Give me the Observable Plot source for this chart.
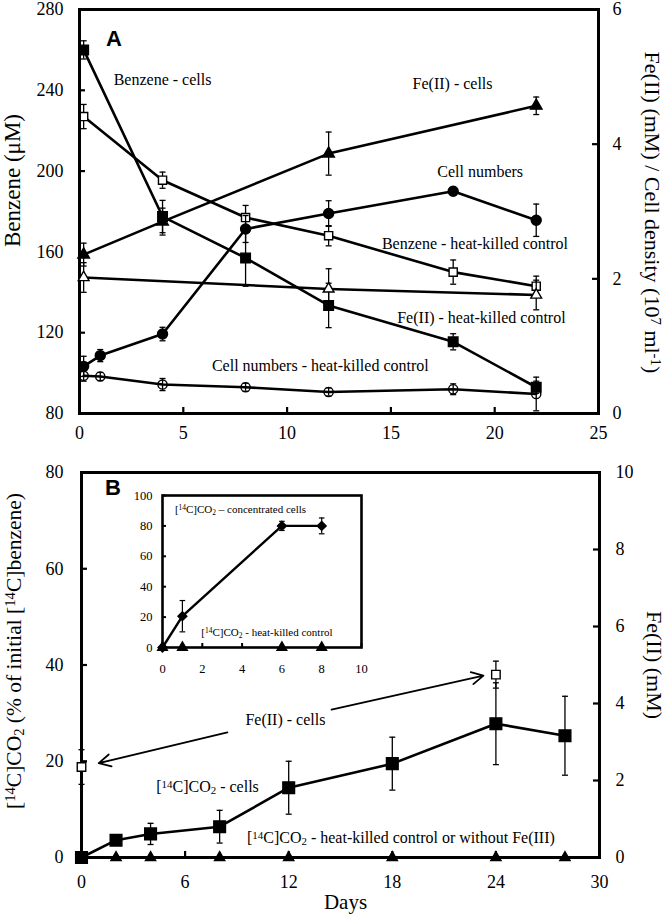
<!DOCTYPE html>
<html><head><meta charset="utf-8">
<script src="https://cdn.jsdelivr.net/npm/d3@7"></script>
<script src="https://cdn.jsdelivr.net/npm/@observablehq/plot@0.6"></script>
<style>
html,body{margin:0;padding:0;background:#fff}
#wrap{position:relative;width:666px;height:916px;overflow:hidden;background:#fff}
#wrap svg{position:absolute;left:0;overflow:visible}
</style></head>
<body><div id="wrap"></div>
<script>
// ---------------- Panel A data ----------------
const daysBenz = [0.2, 4, 8, 12, 18, 22];
const benzeneCells = [260, 177.5, 157, 133.5, 115.5, 93];
const benzeneCellsErr = [4.5, 8, 14, 11, 4, 3];
const benzeneKilled = [227, 195.5, 177, 168, 150, 143];
const benzeneKilledErr = [6, 4, 6, 5, 6, 5];

const daysFe = [0.2, 4, 12, 22];
const feCells = [2.36, 2.85, 3.86, 4.57];
const feCellsErr = [0.17, 0.2, 0.32, 0.13];
const daysFeKilled = [0.2, 12, 22];
const feKilled = [2.02, 1.85, 1.76];
const feKilledErr = [0.22, 0.3, 0.22];

const daysCells = [0.2, 1, 4, 8, 12, 18, 22];
const cellNumbers = [0.70, 0.86, 1.18, 2.74, 2.97, 3.30, 2.87];
const cellNumbersErr = [0.15, 0.09, 0.1, 0.2, 0.19, 0.06, 0.24];
const cellKilled = [0.56, 0.55, 0.43, 0.39, 0.32, 0.36, 0.29];
const cellKilledErr = [0.08, 0.06, 0.09, 0.06, 0.06, 0.08, 0.25];

const xTicksA = [0, 5, 10, 15, 20, 25];
const yTicksA = [80, 120, 160, 200, 240, 280];
const yTicksAR = [0, 2, 4, 6];

// ---------------- Panel B data ----------------
const daysB = [0, 2, 4, 8, 12, 18, 24, 28];
const co2Cells = [0, 3.6, 4.9, 6.4, 14.5, 19.5, 27.8, 25.3];
const co2CellsErr = [0, 1, 2.2, 3.4, 5.5, 5.5, 8.5, 8.2];
const co2Killed = [0, 0, 0, 0, 0, 0, 0, 0];
const daysFeB = [0, 24];
const feB = [2.35, 4.75];
const feBErr = [0.45, 0.35];

const xTicksB = [0, 6, 12, 18, 24, 30];
const yTicksB = [0, 20, 40, 60, 80];
const yTicksBR = [0, 2, 4, 6, 8, 10];

// ---------------- Inset data ----------------
const daysInset = [0, 1, 6, 8];
const co2Conc = [0, 20.6, 80, 80];
const co2ConcErr = [0, 10.3, 3, 5.2];
const co2ConcKilled = [0, 0, 0, 0];
const xTicksIn = [0, 2, 4, 6, 8, 10];
const yTicksIn = [0, 20, 40, 60, 80, 100];

// ---------------- Annotations (data units) ----------------
const notesA = [
  {text: "Benzene - cells", x: 4.0, y: 245},
  {text: "Fe(II) - cells", x: 17.97, y: 243.4},
  {text: "Cell numbers", x: 19.3, y: 199.8},
  {text: "Benzene - heat-killed control", x: 19.05, y: 164.2},
  {text: "Fe(II) - heat-killed control", x: 19.36, y: 127.5},
  {text: "Cell numbers - heat-killed control", x: 11.6, y: 103.8}
];
const notesB = [
  {text: "Fe(II) - cells", x: 11.81, y: 28.5},
  {text: "[^{14}C]CO_{2} - cells", x: 7.3, y: 14.7},
  {text: "[^{14}C]CO_{2} - heat-killed control or without Fe(III)", x: 18.5, y: 4.16}
];
const arrowsB = [
  {x1: 8.45, y1: 26.0, x2: 1.0, y2: 19.6},
  {x1: 14.48, y1: 30.75, x2: 23.28, y2: 37.8}
];
const notesIn = [
  {text: "[^{14}C]CO_{2} – concentrated cells", x: 3.92, y: 90.8},
  {text: "[^{14}C]CO_{2} - heat-killed control", x: 5.25, y: 9.9}
];
const panelLetters = [{text: "A", x: 1.66, y: 265.6}];
const panelLettersB = [{text: "B", x: 1.82, y: 76.7}];

// ---------------- helpers ----------------
const W = 666;
const serif = "'Liberation Serif', 'Times New Roman', serif";
const sans = "'Liberation Sans', Arial, sans-serif";
const capSym = {draw(ctx, size) { const r = Math.sqrt(size / Math.PI); ctx.moveTo(-r, 0); ctx.lineTo(r, 0); }};
const fmt = d => String(d);

function rows(xs, ys, es) { return xs.map((x, i) => ({x, y: ys[i], e: es ? es[i] : 0})); }

function series(data, {symbol, r, fill = "black", line = true, lw = 2.6, capR = 3, ew = 1.3, ds = 1.4}) {
  const withErr = data.filter(d => d.e > 0);
  const m = [];
  if (line) m.push(Plot.line(data, {x: "x", y: "y", stroke: "black", strokeWidth: lw}));
  m.push(Plot.ruleX(withErr, {x: "x", y1: d => d.y - d.e, y2: d => d.y + d.e, stroke: "black", strokeWidth: ew}));
  m.push(Plot.dot(withErr, {x: "x", y: d => d.y - d.e, symbol: capSym, r: capR, fill: "none", stroke: "black", strokeWidth: ew}));
  m.push(Plot.dot(withErr, {x: "x", y: d => d.y + d.e, symbol: capSym, r: capR, fill: "none", stroke: "black", strokeWidth: ew}));
  m.push(Plot.dot(data, {x: "x", y: "y", symbol, r, fill, stroke: "black", strokeWidth: ds}));
  return m;
}
function ticksIn(vals, dim, side, plotSize, len = 6, sw = 2.2) {
  if (dim === "y") {
    const o = {y: d => d, stroke: "black", strokeWidth: sw};
    if (side === "left") o.insetRight = plotSize - len; else o.insetLeft = plotSize - len;
    return Plot.tickY(vals, o);
  }
  return Plot.tickX(vals, {x: d => d, stroke: "black", strokeWidth: sw, insetTop: plotSize - len});
}
function richText(svg) {
  svg.querySelectorAll("text").forEach(t => {
    const s = t.textContent;
    if (!/[\^_]\{/.test(s)) return;
    while (t.firstChild) t.removeChild(t.firstChild);
    const ns = "http://www.w3.org/2000/svg";
    const add = (str, kind) => {
      const sp = document.createElementNS(ns, "tspan");
      sp.textContent = str;
      if (kind) {
        sp.setAttribute("font-size", "68%");
        sp.setAttribute("baseline-shift", kind === "^" ? "38%" : "-22%");
      }
      t.appendChild(sp);
    };
    const re = /([\^_])\{([^}]*)\}/g; let last = 0, mm;
    while ((mm = re.exec(s))) { if (mm.index > last) add(s.slice(last, mm.index)); add(mm[2], mm[1]); last = re.lastIndex; }
    if (last < s.length) add(s.slice(last));
  });
}
const baseStyle = {fontFamily: serif, fontSize: "18px", background: "transparent", overflow: "visible", color: "black"};
const wrap = document.getElementById("wrap");
function place(svg, top) {
  svg.style.position = "absolute"; svg.style.top = top + "px"; svg.style.left = "0px";
  // force serif on axis tick labels
  svg.querySelectorAll('g[aria-label*="tick label"], g[aria-label*="tick label"] text').forEach(el => { el.style.fontFamily = serif; });
  richText(svg); wrap.appendChild(svg);
}
const ax = {tickSize: 0, label: null, fontFamily: serif, tickFormat: fmt};

// ---------------- Panel A ----------------
const A = {h: 450, top: 9, right: 68, bottom: 37, left: 79};
const AW = W - A.left - A.right, AH = A.h - A.top - A.bottom;
const plotAL = Plot.plot({
  width: W, height: A.h, marginTop: A.top, marginRight: A.right, marginBottom: A.bottom, marginLeft: A.left,
  x: {domain: [0, 25]}, y: {domain: [80, 280]}, style: baseStyle,
  marks: [
    Plot.axisX({...ax, ticks: xTicksA, tickPadding: 13, fontSize: 18}),
    Plot.axisY({...ax, ticks: yTicksA, tickPadding: 16, fontSize: 18}),
    ticksIn(yTicksA, "y", "left", AW),
    ticksIn(xTicksA, "x", null, AH),
    ...series(rows(daysBenz, benzeneCells, benzeneCellsErr), {symbol: "square", r: 5.4}),
    ...series(rows(daysBenz, benzeneKilled, benzeneKilledErr), {symbol: "square", r: 4.6, fill: "white"}),
    Plot.text(notesA, {x: "x", y: "y", text: "text", fontSize: 16, fill: "black", fontFamily: serif}),
    Plot.text(panelLetters, {x: "x", y: "y", text: "text", fontSize: 22, fontWeight: "bold", fontFamily: sans, fill: "black"}),
    Plot.text(["Benzene (μM)"], {frameAnchor: "left", textAnchor: "middle", lineAnchor: "middle", rotate: -90, dx: -67, dy: -31, fontSize: 23, fill: "black", fontFamily: serif}),
    Plot.frame({stroke: "black", strokeWidth: 3})
  ]
});
const plotAR = Plot.plot({
  width: W, height: A.h, marginTop: A.top, marginRight: A.right, marginBottom: A.bottom, marginLeft: A.left,
  x: {domain: [0, 25]}, y: {domain: [0, 6]}, style: baseStyle,
  marks: [
    Plot.axisY({...ax, anchor: "right", ticks: yTicksAR, tickPadding: 14, fontSize: 18}),
    Plot.axisX({ticks: [], label: null}),
    ticksIn(yTicksAR, "y", "right", AW),
    ...series(rows(daysFeKilled, feKilled, feKilledErr), {symbol: "triangle", r: 4, fill: "white"}),
    ...series(rows(daysCells, cellKilled, cellKilledErr), {symbol: "circle", r: 4.6, fill: "none"}),
    ...series(rows(daysCells, cellNumbers, cellNumbersErr), {symbol: "circle", r: 5}),
    ...series(rows(daysFe, feCells, feCellsErr), {symbol: "triangle", r: 4.3}),
    Plot.text(["Fe(II) (mM) / Cell density (10^{7} ml^{-1})"], {frameAnchor: "right", textAnchor: "middle", lineAnchor: "middle", rotate: 90, dx: 54, dy: 1, fontSize: 22, fill: "black", fontFamily: serif})
  ]
});
place(plotAL, 0);
place(plotAR, 0);

// ---------------- Panel B ----------------
const B = {y0: 450, h: 466, top: 22, right: 67, bottom: 59, left: 81};
const BW = W - B.left - B.right, BH = B.h - B.top - B.bottom;
const plotBL = Plot.plot({
  width: W, height: B.h, marginTop: B.top, marginRight: B.right, marginBottom: B.bottom, marginLeft: B.left,
  x: {domain: [0, 30]}, y: {domain: [0, 80]}, style: baseStyle,
  marks: [
    Plot.axisX({...ax, ticks: xTicksB, tickPadding: 18, fontSize: 18}),
    Plot.axisY({...ax, ticks: yTicksB, tickPadding: 18, fontSize: 18}),
    ticksIn(yTicksB, "y", "left", BW),
    ticksIn(xTicksB, "x", null, BH),
    ...series(rows(daysB, co2Killed, null), {symbol: "triangle", r: 3.8}),
    ...series(rows(daysB, co2Cells, co2CellsErr), {symbol: "square", r: 6.6}),
    Plot.arrow(arrowsB, {x1: "x1", y1: "y1", x2: "x2", y2: "y2", stroke: "black", strokeWidth: 1.8, headLength: 11, headAngle: 55}),
    Plot.text(notesB, {x: "x", y: "y", text: "text", fontSize: 16, fill: "black", fontFamily: serif}),
    Plot.text(panelLettersB, {x: "x", y: "y", text: "text", fontSize: 22, fontWeight: "bold", fontFamily: sans, fill: "black"}),
    Plot.text(["[^{14}C]CO_{2} (% of initial [^{14}C]benzene)"], {frameAnchor: "left", textAnchor: "middle", lineAnchor: "middle", rotate: -90, dx: -67, dy: -14, fontSize: 21.5, fill: "black", fontFamily: serif}),
    Plot.text(["Days"], {frameAnchor: "bottom", textAnchor: "middle", lineAnchor: "middle", dx: 5, dy: 45, fontSize: 21, fill: "black", fontFamily: serif}),
    Plot.frame({stroke: "black", strokeWidth: 3})
  ]
});
const plotBR = Plot.plot({
  width: W, height: B.h, marginTop: B.top, marginRight: B.right, marginBottom: B.bottom, marginLeft: B.left,
  x: {domain: [0, 30]}, y: {domain: [0, 10]}, style: baseStyle,
  marks: [
    Plot.axisY({...ax, anchor: "right", ticks: yTicksBR, tickPadding: 16, fontSize: 18}),
    Plot.axisX({ticks: [], label: null}),
    ticksIn(yTicksBR, "y", "right", BW),
    ...series(rows(daysFeB, feB, feBErr), {symbol: "square", r: 4.8, fill: "white", line: false}),
    Plot.text(["Fe(II) (mM)"], {frameAnchor: "right", textAnchor: "middle", lineAnchor: "middle", rotate: 90, dx: 55, dy: 0, fontSize: 22, fill: "black", fontFamily: serif})
  ]
});
place(plotBL, B.y0);
place(plotBR, B.y0);

// ---------------- Inset ----------------
const I = {h: 466, top: 45, right: 305, bottom: 269, left: 162};
const IW = W - I.left - I.right, IH = I.h - I.top - I.bottom;
const plotIn = Plot.plot({
  width: W, height: I.h, marginTop: I.top, marginRight: I.right, marginBottom: I.bottom, marginLeft: I.left,
  x: {domain: [0, 10]}, y: {domain: [0, 100]}, style: {...baseStyle, fontSize: "12.5px"},
  marks: [
    Plot.axisX({...ax, ticks: xTicksIn, tickPadding: 17, fontSize: 12.5}),
    Plot.axisY({...ax, ticks: yTicksIn, tickPadding: 10, fontSize: 12.5}),
    ticksIn(yTicksIn, "y", "left", IW, 4, 2),
    ticksIn(xTicksIn, "x", null, IH, 4, 2),
    ...series(rows(daysInset, co2ConcKilled, null), {symbol: "triangle", r: 3.6, line: false}),
    ...series(rows(daysInset, co2Conc, co2ConcErr), {symbol: "diamond2", r: 4, lw: 2.4, capR: 2.8, ew: 1.2}),
    Plot.text(notesIn, {x: "x", y: "y", text: "text", fontSize: 11, fill: "black", fontFamily: serif}),
    Plot.frame({stroke: "black", strokeWidth: 2.6})
  ]
});
place(plotIn, B.y0);
</script>
</body></html>
